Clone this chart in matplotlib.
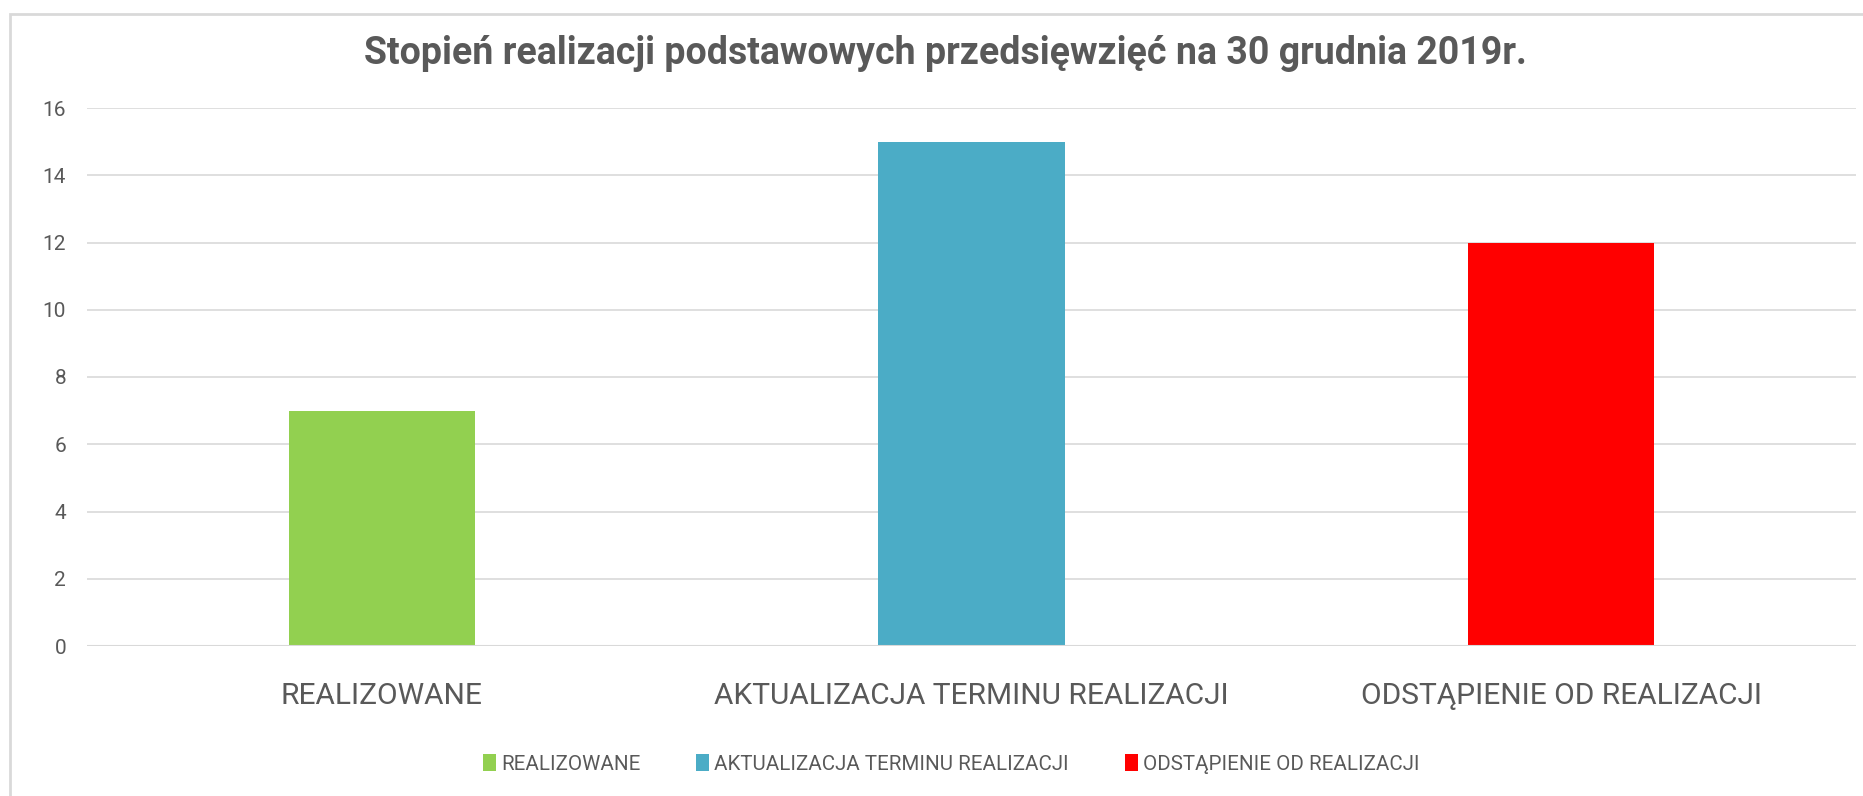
import matplotlib
matplotlib.use("Agg")
import matplotlib.pyplot as plt
from matplotlib.patches import Patch, Rectangle

categories = ["REALIZOWANE", "AKTUALIZACJA TERMINU REALIZACJI", "ODSTĄPIENIE OD REALIZACJI"]
values = [7, 15, 12]
colors = ["#92D050", "#4BACC6", "#FF0000"]
yticks = [0, 2, 4, 6, 8, 10, 12, 14, 16]
title = "Stopień realizacji podstawowych przedsięwzięć na 30 grudnia 2019r."

TXT = "#595959"
GRID = "#D9D9D9"
FONT = ["Roboto", "DejaVu Sans"]

fig = plt.figure(figsize=(18.63, 7.96), dpi=100)
fig.patch.set_facecolor("white")

# chart border (only top and left visible in the reference)
fig.patches.append(Rectangle((10 / 1863, -0.05), 1.2, 1 - 14 / 796 + 0.05,
                             transform=fig.transFigure, fill=False,
                             edgecolor=GRID, linewidth=2.0))

ax = fig.add_axes([87 / 1863, 1 - 646 / 796, (1856 - 87) / 1863, (646 - 108) / 796])
x = list(range(len(categories)))
ax.bar(x, values, width=0.316, color=colors, zorder=3)
ax.set_xlim(-0.5, len(categories) - 0.5)
ax.set_ylim(0, 16)
ax.set_yticks(yticks)
ax.set_yticklabels([str(v) for v in yticks], color=TXT, fontsize=15, family=FONT)
ax.set_xticks(x)
ax.set_xticklabels(categories, color=TXT, fontsize=21.5, family=FONT)
ax.tick_params(axis="y", length=0, pad=15)
ax.tick_params(axis="x", length=0, pad=26)
ax.grid(axis="y", color=GRID, linewidth=1.2, zorder=0)
for s in ax.spines.values():
    s.set_visible(False)
ax.axhline(0, color=GRID, linewidth=1.5, zorder=4)

fig.text(945 / 1863, 1 - 53 / 796, title, ha="center", va="center",
         fontsize=27, fontweight="bold", color=TXT, family=FONT)

handles = [Patch(facecolor=c, edgecolor="none") for c in colors]
leg = fig.legend(handles, categories, loc="center", bbox_to_anchor=(951 / 1863, 1 - 764 / 796),
                 ncol=3, frameon=False, handlelength=0.65, handleheight=0.9,
                 handletextpad=0.25, columnspacing=2.7,
                 prop={"family": FONT, "size": 14.8})
for t in leg.get_texts():
    t.set_color(TXT)

fig.savefig("out.png", dpi=100, facecolor="white")
